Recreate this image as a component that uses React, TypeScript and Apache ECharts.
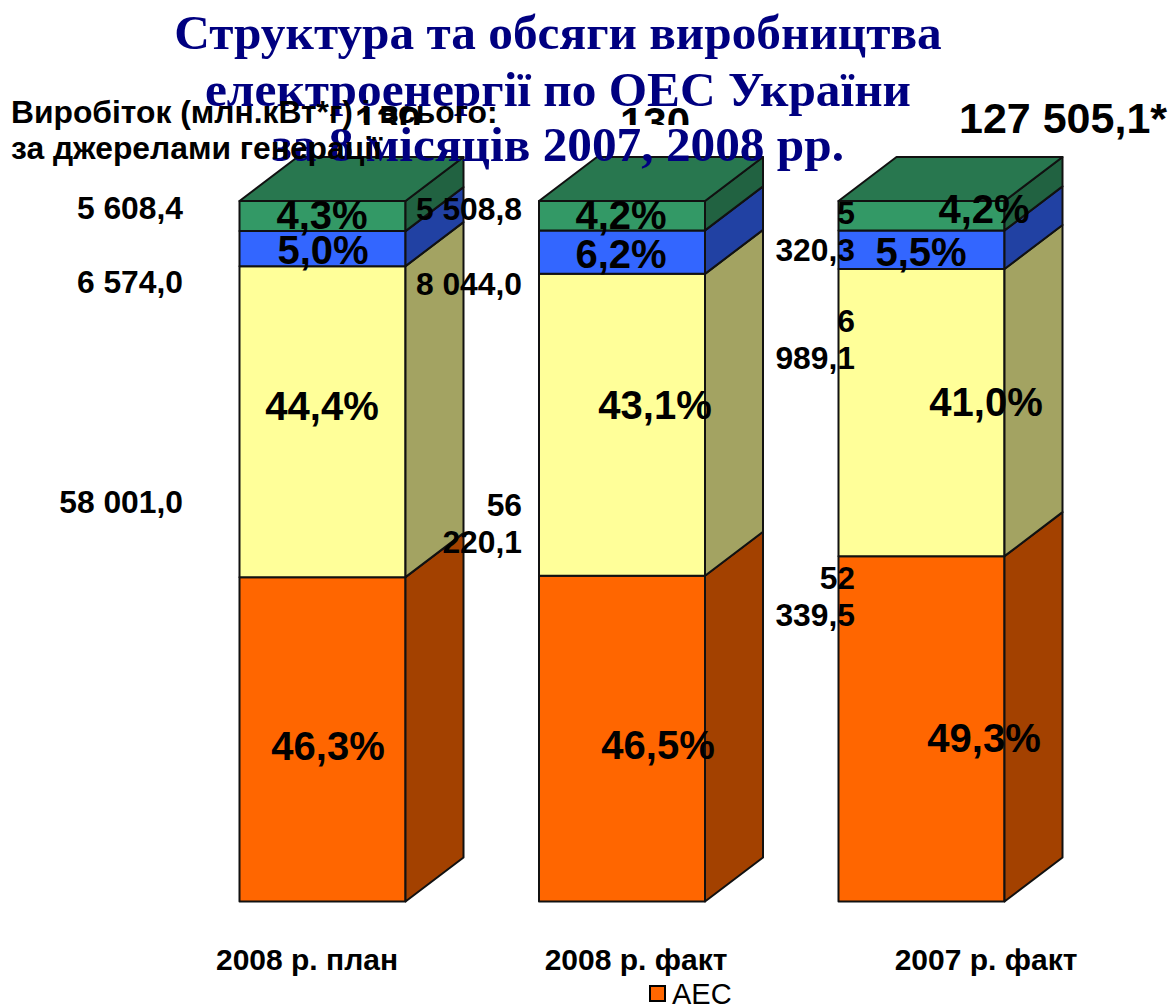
import React, { useEffect, useRef } from "react";
import * as echarts from "echarts";

const categories = ["2008 р. план", "2008 р. факт", "2007 р. факт"];
const aesShare = [46.3, 46.5, 49.3];
const tesShare = [44.4, 43.1, 41.0];
const hesShare = [5.0, 6.2, 5.5];
const otherShare = [4.3, 4.2, 4.2];

const aesLabels = ["46,3%", "46,5%", "49,3%"];
const tesLabels = ["44,4%", "43,1%", "41,0%"];
const hesLabels = ["5,0%", "6,2%", "5,5%"];
const otherLabels = ["4,3%", "4,2%", "4,2%"];

const titleLines = [
  "Структура та обсяги виробництва",
  "електроенергії по ОЕС України",
  "за 8 місяців 2007, 2008 рр.",
];
const axisNoteLines = ["Виробіток (млн.кВт*г) і всього:", "за джерелами генерації"];
const totalLabels = ["130", "130", "127 505,1*"];
const otherValues = ["5 608,4", "5 508,8", "5\n320,3"];
const hesValues = ["6 574,0", "8 044,0", "6\n989,1"];
const tesValues = ["58 001,0", "56\n220,1", "52\n339,5"];

const DX = 58;
const DY = 44;
const BAR_RATIO = 166 / 299.5;

const stackNames = ["АЕС", "ТЕС", "ГЕС", "Інші"];
const stackValues = [aesShare, tesShare, hesShare, otherShare];
const fronts = ["#FF6600", "#FFFF99", "#3366FF", "#339966"];
const sides = ["#A34100", "#A3A362", "#2141A3", "#216241"];
const TOP_FACE = "#28774F";
const STROKE = "#111111";

function makeSeries(idx: number) {
  const data = categories.map((_, c) => {
    let start = 0;
    for (let s = 0; s < idx; s++) start += stackValues[s][c];
    return [c, start, start + stackValues[idx][c]];
  });
  return {
    type: "custom",
    name: stackNames[idx],
    z: 2,
    clip: false,
    silent: true,
    encode: { x: 0, y: [1, 2] },
    data,
    renderItem: (_p: any, api: any) => {
      const c = api.value(0);
      const p0 = api.coord([c, api.value(1)]);
      const p1 = api.coord([c, api.value(2)]);
      const w = api.size([1, 0])[0] * BAR_RATIO;
      const x0 = p0[0] - w / 2;
      const x1 = p0[0] + w / 2;
      const y0 = p0[1];
      const y1 = p1[1];
      const line = { stroke: STROKE, lineWidth: 2, lineJoin: "round" };
      const children: any[] = [
        { type: "polygon", shape: { points: [[x0, y1], [x1, y1], [x1, y0], [x0, y0]] }, style: { fill: fronts[idx], ...line } },
        { type: "polygon", shape: { points: [[x1, y1], [x1 + DX, y1 - DY], [x1 + DX, y0 - DY], [x1, y0]] }, style: { fill: sides[idx], ...line } },
      ];
      if (idx === stackValues.length - 1) {
        children.push({
          type: "polygon",
          shape: { points: [[x0, y1], [x0 + DX, y1 - DY], [x1 + DX, y1 - DY], [x1, y1]] },
          style: { fill: TOP_FACE, ...line },
        });
      }
      return { type: "group", children };
    },
  };
}

const SANS = "'Liberation Sans', Arial, sans-serif";
const SERIF = "'Liberation Serif', 'Times New Roman', serif";

function txt(text: string, x: number, y: number, fontSize: number, align: string, z: number, extra: any = {}) {
  return {
    type: "text",
    x,
    y,
    z,
    silent: true,
    style: {
      text,
      fontFamily: SANS,
      fontWeight: "bold",
      fontSize,
      fill: "#000000",
      align,
      verticalAlign: "middle",
      ...extra,
    },
  };
}

function buildGraphics() {
  const g: any[] = [];
  // totals that sit behind the masked strip and the title
  g.push(txt(totalLabels[0], 388, 121, 40, "center", 10));
  g.push(txt(totalLabels[1], 655, 122, 42, "center", 10));
  g.push({ type: "rect", z: 11, silent: true, shape: { x: 345, y: 125, width: 85, height: 16 }, style: { fill: "#fff" } });
  g.push({ type: "rect", z: 11, silent: true, shape: { x: 612, y: 125, width: 86, height: 16 }, style: { fill: "#fff" } });
  // title
  const titleY = [32, 89, 144];
  titleLines.forEach((t, i) =>
    g.push(txt(t, 558, titleY[i], 49.3, "center", 12, { fontFamily: SERIF, fill: "#000080" }))
  );
  // note
  g.push(txt(axisNoteLines[0], 11, 112, 31.8, "left", 20));
  g.push(txt(axisNoteLines[1], 11, 148, 31.8, "left", 20));
  g.push(txt(totalLabels[2], 959, 118, 43, "left", 20));
  // values
  const rows = [
    [otherValues, [208, 209, 231], [183, 522, 855]],
    [hesValues, [282, 284, 339], [183, 522, 855]],
    [tesValues, [502, 523, 596], [183, 522, 855]],
  ] as [string[], number[], number[]][];
  rows.forEach(([vals, ys, xs]) =>
    vals.forEach((v, i) => g.push(txt(v, xs[i], ys[i], 31.8, "right", 20, { lineHeight: 37 })))
  );
  // shares
  const shareRows = [
    [aesLabels, [328, 658, 984], [746, 745, 738]],
    [tesLabels, [322, 655, 986], [406, 405, 402]],
    [hesLabels, [323, 621, 921], [250, 254, 252]],
    [otherLabels, [322, 621, 984], [215, 215, 209]],
  ] as [string[], number[], number[]][];
  shareRows.forEach(([vals, xs, ys]) =>
    vals.forEach((v, i) => g.push(txt(v, xs[i], ys[i], 40, "center", 20)))
  );
  // categories
  const catX = [307, 636, 986];
  categories.forEach((c, i) => g.push(txt(c, catX[i], 959, 30, "center", 20)));
  return g;
}

export default function App() {
  const ref = useRef<HTMLDivElement>(null);
  useEffect(() => {
    const chart = echarts.init(ref.current!, undefined, { renderer: "svg" });
    chart.setOption({
      animation: false,
      backgroundColor: "#ffffff",
      grid: { left: 172.75, width: 898.5, top: 201, height: 700.5, containLabel: false },
      xAxis: { type: "category", data: categories, show: false },
      yAxis: { type: "value", min: 0, max: 100, show: false },
      legend: {
        left: 649,
        top: 979,
        padding: 0,
        selectedMode: false,
        itemWidth: 15,
        itemHeight: 15,
        itemGap: 4,
        textStyle: { fontFamily: SANS, fontSize: 29, color: "#000", padding: [0, 0, 0, 2] },
        data: [{ name: stackNames[0], icon: "rect", itemStyle: { color: fronts[0], borderColor: "#000", borderWidth: 2 } }],
      },
      series: stackValues.map((_, i) => makeSeries(i)),
      graphic: { elements: buildGraphics() },
    });
    return () => chart.dispose();
  }, []);
  return <div ref={ref} style={{ position: "fixed", left: 0, top: 0, width: 1168, height: 1007 }} />;
}
